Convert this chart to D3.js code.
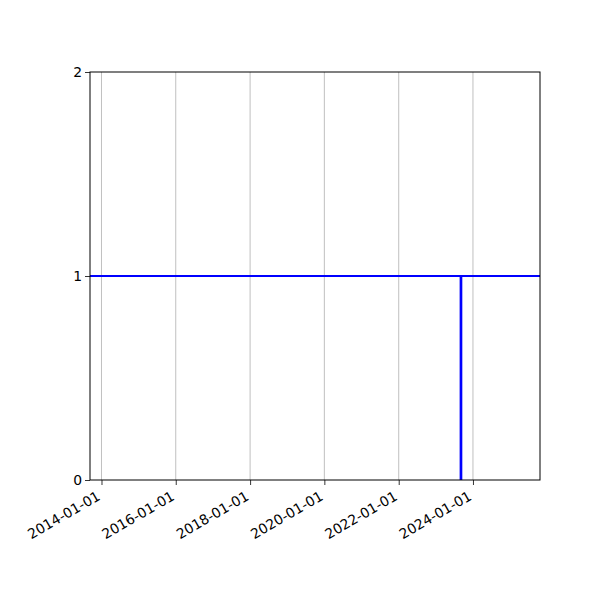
<!DOCTYPE html>
<html>
<head>
<meta charset="utf-8">
<script src="https://cdn.jsdelivr.net/npm/d3@7"></script>
<style>
  body { margin: 0; background: #fff; }
  svg text { font-family: "DejaVu Sans", sans-serif; font-size: 13.9px; fill: #000; }
</style>
</head>
<body>
<svg id="chart" width="600" height="600"></svg>
<script>
// DATA
const xDomain = ["2013-09-10", "2025-10-21"];
const xTicks = ["2014-01-01", "2016-01-01", "2018-01-01", "2020-01-01", "2022-01-01", "2024-01-01"];
const yTicks = [0, 1, 2];
const levelValue = 1;
const dropDate = "2023-09-05";
const dropValues = [0, 1];

// DIMENSIONS
const WIDTH = 600, HEIGHT = 600;
const LEFT = 90, RIGHT = 540, TOP = 72, BOTTOM = 480;

const parse = d3.utcParse("%Y-%m-%d");

const x = d3.scaleUtc()
  .domain(xDomain.map(parse))
  .range([LEFT, RIGHT]);

const y = d3.scaleLinear()
  .domain([0, 2])
  .range([BOTTOM, TOP]);

const svg = d3.select("#chart");

// vertical grid
svg.append("g")
  .selectAll("line")
  .data(xTicks)
  .join("line")
  .attr("x1", d => x(parse(d)))
  .attr("x2", d => x(parse(d)))
  .attr("y1", TOP)
  .attr("y2", BOTTOM)
  .attr("stroke", "#b0b0b0")
  .attr("stroke-width", 0.8);

// level line across
svg.append("line")
  .attr("x1", LEFT)
  .attr("x2", RIGHT)
  .attr("y1", y(levelValue))
  .attr("y2", y(levelValue))
  .attr("stroke", "blue")
  .attr("stroke-width", 2);

// drop line
svg.append("path")
  .attr("d", d3.line()(dropValues.map(v => [x(parse(dropDate)), y(v)])))
  .attr("stroke", "blue")
  .attr("stroke-width", 2.7)
  .attr("fill", "none");

// x axis
const xAxis = svg.append("g")
  .attr("transform", `translate(0,${BOTTOM})`)
  .call(d3.axisBottom(x)
    .tickValues(xTicks.map(parse))
    .tickFormat(d3.utcFormat("%Y-%m-%d"))
    .tickSize(5)
    .tickSizeOuter(0));
xAxis.select(".domain").remove();
xAxis.selectAll("line").attr("stroke", "#000").attr("stroke-width", 0.8);
xAxis.selectAll("text")
  .attr("font-size", null)
  .attr("font-family", null)
  .attr("text-anchor", "end")
  .attr("dy", null)
  .attr("y", 0)
  .attr("transform", "translate(-6,10) rotate(-30)")
  .attr("dominant-baseline", "hanging");

// y axis
const yAxis = svg.append("g")
  .attr("transform", `translate(${LEFT},0)`)
  .call(d3.axisLeft(y)
    .tickValues(yTicks)
    .tickFormat(d3.format("d"))
    .tickSize(5)
    .tickSizeOuter(0));
yAxis.select(".domain").remove();
yAxis.selectAll("line").attr("stroke", "#000").attr("stroke-width", 0.8);
yAxis.selectAll("text")
  .attr("font-size", null)
  .attr("font-family", null)
  .attr("x", -8);

// frame
svg.append("rect")
  .attr("x", LEFT)
  .attr("y", TOP)
  .attr("width", RIGHT - LEFT)
  .attr("height", BOTTOM - TOP)
  .attr("fill", "none")
  .attr("stroke", "#000")
  .attr("stroke-width", 1);
</script>
</body>
</html>
